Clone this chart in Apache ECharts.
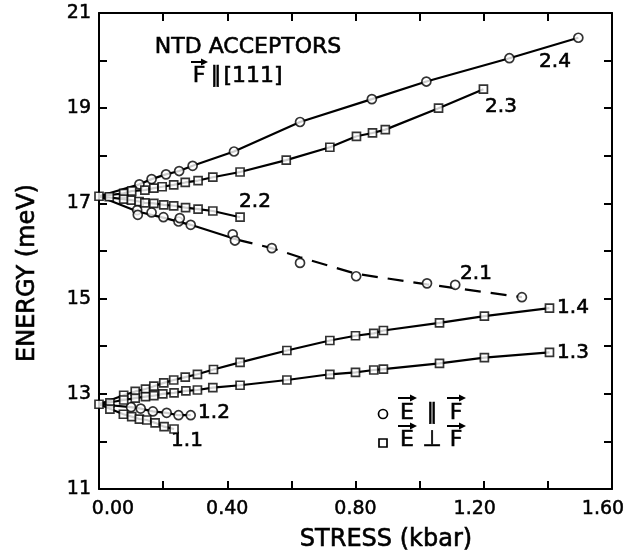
<!DOCTYPE html>
<html><head><meta charset="utf-8">
<script src="https://cdn.jsdelivr.net/npm/echarts@6/dist/echarts.min.js"></script>
<style>html,body{margin:0;padding:0;background:#fff}#c{width:638px;height:554px}</style>
</head><body><div id="c"></div>
<script>
// ---- data (stress kbar, energy meV) ----
const xTicks = [0, 0.4, 0.8, 1.2, 1.6];
const yTicks = [11, 13, 15, 17, 19, 21];
const originUpper = [[0,17.15],[0.032,17.14]];
const originLower = [[0,12.78],[0.034,12.81],[0.034,12.68]];
const b24 = [[0.126,17.40],[0.164,17.51],[0.209,17.61],[0.250,17.68],[0.292,17.79],[0.421,18.09],[0.627,18.71],[0.851,19.19],[1.021,19.56],[1.280,20.05],[1.495,20.48]];
const b23 = [[0.077,17.21],[0.102,17.26],[0.143,17.28],[0.171,17.32],[0.197,17.35],[0.233,17.39],[0.269,17.44],[0.309,17.48],[0.355,17.55],[0.44,17.66],[0.584,17.91],[0.72,18.18],[0.803,18.41],[0.853,18.48],[0.893,18.55],[1.059,19.0],[1.199,19.40]];
const b22 = [[0.077,17.09],[0.101,17.07],[0.125,17.04],[0.143,17.01],[0.171,17.0],[0.202,16.97],[0.233,16.95],[0.27,16.91],[0.309,16.88],[0.355,16.84],[0.44,16.71]];
const b21 = [[0.119,16.86],[0.121,16.76],[0.164,16.81],[0.201,16.71],[0.248,16.62],[0.252,16.69],[0.286,16.55],[0.417,16.35],[0.424,16.22],[0.539,16.06],[0.627,15.75],[0.802,15.47],[1.023,15.32],[1.111,15.29],[1.319,15.03]];
const b21solidCurve = [[0,17.15],[0.12,16.83],[0.2,16.7],[0.286,16.55],[0.43,16.24]];
const b21dashCurve = [[0.43,16.24],[0.539,16.06],[0.627,15.87],[0.802,15.52],[1.023,15.30],[1.111,15.22],[1.319,15.03]];
const b14 = [[0.077,12.97],[0.113,13.05],[0.145,13.10],[0.171,13.16],[0.202,13.23],[0.233,13.29],[0.269,13.35],[0.307,13.41],[0.357,13.51],[0.44,13.66],[0.586,13.91],[0.72,14.12],[0.80,14.22],[0.857,14.27],[0.887,14.33],[1.062,14.49],[1.202,14.63],[1.405,14.80]];
const b13 = [[0.077,12.87],[0.113,12.91],[0.145,12.94],[0.171,12.96],[0.199,13.0],[0.234,13.02],[0.271,13.06],[0.307,13.08],[0.355,13.13],[0.44,13.18],[0.586,13.29],[0.72,13.41],[0.80,13.45],[0.857,13.50],[0.887,13.52],[1.062,13.64],[1.202,13.76],[1.405,13.87]];
const b12 = [[0.10,12.72],[0.13,12.69],[0.168,12.63],[0.211,12.60],[0.248,12.55],[0.286,12.55]];
const b11 = [[0.076,12.57],[0.102,12.52],[0.126,12.47],[0.149,12.45],[0.175,12.39],[0.203,12.31],[0.234,12.26]];

const FONT = 'DejaVu Sans';
const chart = echarts.init(document.getElementById('c'), null, {renderer:'canvas'});
function curve(data, dashed){
  return {type:'line', data:data, showSymbol:false, symbol:'none', z:2, silent:true,
    lineStyle:{color:'#000', width:2.2, type: dashed ? [16,10] : 'solid'}};
}
function pts(data, shape){
  return {type:'scatter', data:data, symbol:shape, symbolSize: shape==='circle'?9:8, z:5, silent:true,
    itemStyle:{color:'#fff', borderColor:'#000', borderWidth:1.7}};
}
const withStart = (o, d) => [o].concat(d);
const axisCommon = {
  axisLine:{show:true, onZero:false, lineStyle:{color:'#000', width:2}},
  axisTick:{show:true, inside:true, length:8, lineStyle:{color:'#000', width:2}},
  splitLine:{show:false}
};
const xLabel = v => {
  if (!xTicks.some(t => Math.abs(t - v) < 1e-6)) return '';
  const s = v.toFixed(2);
  if (v < 0.01) return '{first|' + s + '}';
  if (v > 1.0) return '{late|' + s + '}';
  return s;
};
const yLabel = v => yTicks.some(t => Math.abs(t - v) < 1e-6) ? String(v) : '';

function arrow(x1, x2, y){
  return {type:'group', children:[
    {type:'line', shape:{x1:x1, y1:y, x2:x2-4, y2:y}, style:{stroke:'#000', lineWidth:2}},
    {type:'polygon', shape:{points:[[x2,y],[x2-7,y-3.5],[x2-7,y+3.5]]}, style:{fill:'#000'}}
  ]};
}
function txt(x, y, s, size, align){
  return {type:'text', x:x, y:y, style:{text:s, font:size+'px "'+FONT+'"', fill:'#000', stroke:'#000', lineWidth:0.6,
    textAlign:align||'center', textVerticalAlign:'middle'}};
}
const tickFont = {color:'#000', fontSize:19, fontFamily:FONT, textBorderColor:'#000', textBorderWidth:0.5};

chart.setOption({
  animation:false,
  backgroundColor:'#fff',
  grid:{left:99, right:26, top:13, bottom:65, containLabel:false},
  xAxis:[
    Object.assign({type:'value', min:0, max:1.6, interval:0.2, position:'bottom',
      axisLabel:Object.assign({formatter:xLabel, margin:11,
        rich:{first:Object.assign({padding:[0,0,0,28]}, tickFont), late:Object.assign({padding:[0,18,0,0]}, tickFont)}}, tickFont)}, axisCommon),
    Object.assign({type:'value', min:0, max:1.6, interval:0.2, position:'top',
      axisLabel:{show:false}}, axisCommon)
  ],
  yAxis:[
    Object.assign({type:'value', min:11, max:21, interval:1, position:'left',
      axisLabel:Object.assign({formatter:yLabel, margin:8}, tickFont)}, axisCommon),
    Object.assign({type:'value', min:11, max:21, interval:1, position:'right',
      axisLabel:{show:false}}, axisCommon)
  ],
  series:[
    curve(withStart(originUpper[0], b24)),
    curve(withStart(originUpper[0], b23)),
    curve(withStart(originUpper[0], b22)),
    curve(b21solidCurve),
    curve(b21dashCurve, true),
    curve(withStart(originLower[0], b14)),
    curve(withStart(originLower[0], b13)),
    curve(withStart(originLower[0], b12)),
    curve(withStart(originLower[0], b11)),
    pts(b24,'circle'), pts(b21,'circle'), pts(b12,'circle'),
    pts(b23,'rect'), pts(b22,'rect'), pts(b14,'rect'), pts(b13,'rect'), pts(b11,'rect'),
    pts(originUpper,'rect'), pts(originLower,'rect')
  ],
  graphic:[
    txt(248, 47, 'NTD ACCEPTORS', 22),
    txt(199, 76, 'F', 22), txt(216, 76, '∥', 22), txt(253, 76, '[111]', 22),
    arrow(191, 208, 62),
    txt(555, 62, '2.4', 20), txt(501, 107, '2.3', 20), txt(255, 202, '2.2', 20), txt(476, 274, '2.1', 20),
    txt(573, 308, '1.4', 20), txt(573, 353, '1.3', 20), txt(214, 413, '1.2', 20), txt(187, 441, '1.1', 20),
    {type:'circle', shape:{cx:383, cy:414, r:4.5}, style:{fill:'#fff', stroke:'#000', lineWidth:1.7}},
    {type:'rect', shape:{x:379, y:439, width:8, height:8}, style:{fill:'#fff', stroke:'#000', lineWidth:1.7}},
    txt(407, 413, 'E', 22), txt(432, 413, '∥', 22), txt(456, 413, 'F', 22),
    txt(407, 440, 'E', 22), txt(432, 440, '⊥', 22), txt(456, 440, 'F', 22),
    arrow(398, 417, 398), arrow(447, 466, 398),
    arrow(398, 417, 426), arrow(447, 466, 426),
    txt(386, 540, 'STRESS (kbar)', 24),
    {type:'text', x:28, y:273, rotation:Math.PI/2,
      style:{text:'ENERGY (meV)', font:'24px "'+FONT+'"', fill:'#000', stroke:'#000', lineWidth:0.6, textAlign:'center', textVerticalAlign:'middle'}}
  ]
});
</script></body></html>
